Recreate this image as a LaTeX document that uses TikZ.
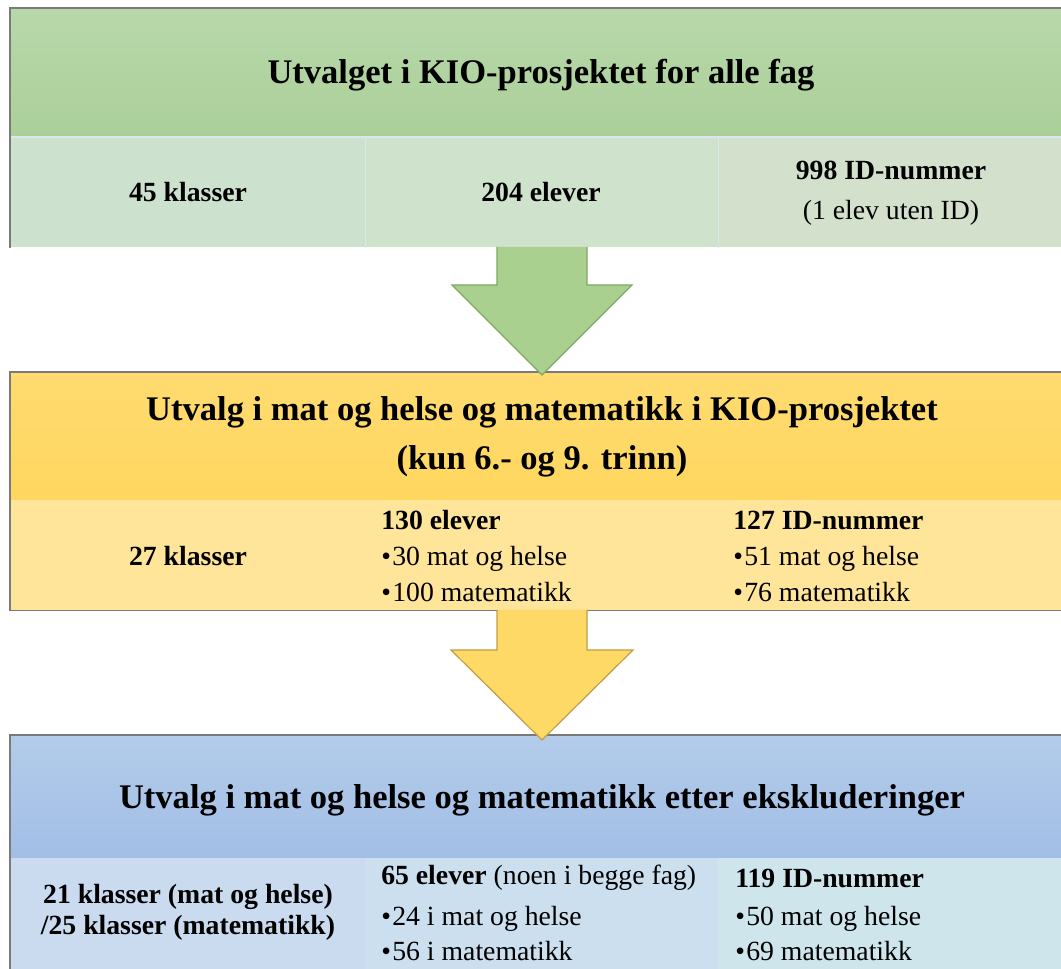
\documentclass[tikz,border=0pt]{standalone}
\usepackage{fontspec}
\setmainfont{Liberation Serif}
\usetikzlibrary{calc}
\definecolor{gHeadT}{HTML}{B8D8AA}
\definecolor{gHeadB}{HTML}{ABCF99}
\definecolor{gC1}{HTML}{CCE2CE}
\definecolor{gC2}{HTML}{CFE2CC}
\definecolor{gC3}{HTML}{D3E1CC}
\definecolor{yHeadT}{HTML}{FFDB70}
\definecolor{yHeadB}{HTML}{FFD75F}
\definecolor{yC}{HTML}{FFE59A}
\definecolor{bHeadT}{HTML}{B3CCEA}
\definecolor{bHeadB}{HTML}{A2BEE6}
\definecolor{bC1}{HTML}{CADAEF}
\definecolor{bC2}{HTML}{CBDFEE}
\definecolor{bC3}{HTML}{CEE5EC}
\definecolor{edge}{HTML}{7A7A7A}
\definecolor{sep}{HTML}{DCE6F0}
\definecolor{gArrow}{HTML}{A9D08E}
\definecolor{gArrowE}{HTML}{7FA767}
\definecolor{yArrow}{HTML}{FFD966}
\definecolor{yArrowE}{HTML}{BF9F45}
\tikzset{
  x=0.75pt, y=-0.75pt,
  boxnode/.style={rectangle, inner sep=0pt, anchor=north west, minimum width=795pt},
  cellnode/.style={rectangle, inner sep=0pt, anchor=north west},
  titletext/.style={font=\fontsize{25.9}{31}\selectfont\bfseries, align=center},
  celltext/.style={font=\fontsize{20.8}{25}\selectfont, align=center},
  listtext/.style={font=\fontsize{20.8}{25}\selectfont, anchor=west, inner sep=0pt},
  blockarrow/.style={line width=0.9pt, line join=miter},
}
\newcommand{\bul}{\textbullet\hspace{1pt}}
\begin{document}
\begin{tikzpicture}
\useasboundingbox (0,0) rectangle (1061,969);
% ---------- green box ----------
\node[boxnode, minimum height=96.75pt, top color=gHeadT, bottom color=gHeadB] (ghead) at (10,8) {};
\node[cellnode, minimum width=266.25pt, minimum height=82.5pt, fill=gC1] (gc1) at (10,137) {};
\node[cellnode, minimum width=264.75pt, minimum height=82.5pt, fill=gC2] (gc2) at (365,137) {};
\node[cellnode, minimum width=264pt, minimum height=82.5pt, fill=gC3] (gc3) at (718,137) {};
\draw[sep, line width=1pt] (gc1.north east) -- (gc1.south east) (gc2.north east) -- (gc2.south east);
\draw[sep, line width=1pt] (gc1.north west) -- (gc3.north east);
\draw[edge, line width=0.9pt] (gc1.south west) -- (ghead.north west) -- (ghead.north east);
\node[titletext] (gt) at (541,75) {Utvalget i KIO-prosjektet for alle fag};
\node[celltext, font=\fontsize{20.8}{25}\selectfont\bfseries] (g1) at (188,192) {45 klasser};
\node[celltext, font=\fontsize{20.8}{25}\selectfont\bfseries] (g2) at (541,192) {204 elever};
\node[celltext] (g3) at (891,193) {\textbf{998 ID-nummer}\\[5pt](1 elev uten ID)};
% ---------- yellow box ----------
\node[boxnode, minimum height=96pt, top color=yHeadT, bottom color=yHeadB] (yhead) at (10,372) {};
\node[cellnode, minimum width=795pt, minimum height=82.5pt, fill=yC] (yrow) at (10,500) {};
\draw[edge, line width=0.9pt] (yrow.south east) -- (yrow.south west) -- (yhead.north west) -- (yhead.north east);
\node[titletext] (yt) at (542,437) {Utvalg i mat og helse og matematikk i KIO-prosjektet\\[6pt](kun 6.- og 9. trinn)};
\node[celltext, font=\fontsize{20.8}{25}\selectfont\bfseries] (y1) at (188,556) {27 klasser};
\node[listtext, font=\fontsize{20.8}{25}\selectfont\bfseries] (y2a) at (381,520) {130 elever};
\node[listtext] (y2b) at (381,559) {\bul 30 mat og helse};
\node[listtext] (y2c) at (381,592) {\bul 100 matematikk};
\node[listtext, font=\fontsize{20.8}{25}\selectfont\bfseries] (y3a) at (733,520) {127 ID-nummer};
\node[listtext] (y3b) at (733,559) {\bul 51 mat og helse};
\node[listtext] (y3c) at (733,592) {\bul 76 matematikk};
% ---------- blue box ----------
\node[boxnode, minimum height=92.25pt, top color=bHeadT, bottom color=bHeadB] (bhead) at (10,735) {};
\node[cellnode, minimum width=266.25pt, minimum height=90pt, fill=bC1] (bc1) at (10,858) {};
\node[cellnode, minimum width=264.75pt, minimum height=90pt, fill=bC2] (bc2) at (365,858) {};
\node[cellnode, minimum width=264pt, minimum height=90pt, fill=bC3] (bc3) at (718,858) {};
\draw[edge, line width=0.9pt] (bc1.south west) -- (bhead.north west) -- (bhead.north east);
\node[titletext] (bt) at (542,800) {Utvalg i mat og helse og matematikk etter ekskluderinger};
\node[celltext, font=\fontsize{20.8}{23}\selectfont\bfseries] (b1) at (188,912) {21 klasser (mat og helse)\\/25 klasser (matematikk)};
\node[listtext] (b2a) at (381,878) {\textbf{65 elever} (noen i begge fag)};
\node[listtext] (b2b) at (381,919) {\bul 24 i mat og helse};
\node[listtext] (b2c) at (381,951) {\bul 56 i matematikk};
\node[listtext, font=\fontsize{20.8}{25}\selectfont\bfseries] (b3a) at (735,878) {119 ID-nummer};
\node[listtext] (b3b) at (735,919) {\bul 50 mat og helse};
\node[listtext] (b3c) at (735,951) {\bul 69 matematikk};
% ---------- block arrows ----------
\coordinate (ga) at (542,247);
\coordinate (gb) at (542,375);
\filldraw[blockarrow, fill=gArrow, draw=gArrowE]
  ($(ga)+(-45,0)$) -- ($(ga)+(-45,38)$) -- ($(ga)+(-90,38)$) -- (gb)
  -- ($(ga)+(90,38)$) -- ($(ga)+(45,38)$) -- ($(ga)+(45,0)$);
\coordinate (ya) at (542,610);
\coordinate (yb) at (542,740);
\filldraw[blockarrow, fill=yArrow, draw=yArrowE]
  ($(ya)+(-45,0)$) -- ($(ya)+(-45,40)$) -- ($(ya)+(-91,40)$) -- (yb)
  -- ($(ya)+(91,40)$) -- ($(ya)+(45,40)$) -- ($(ya)+(45,0)$);
\end{tikzpicture}
\end{document}
